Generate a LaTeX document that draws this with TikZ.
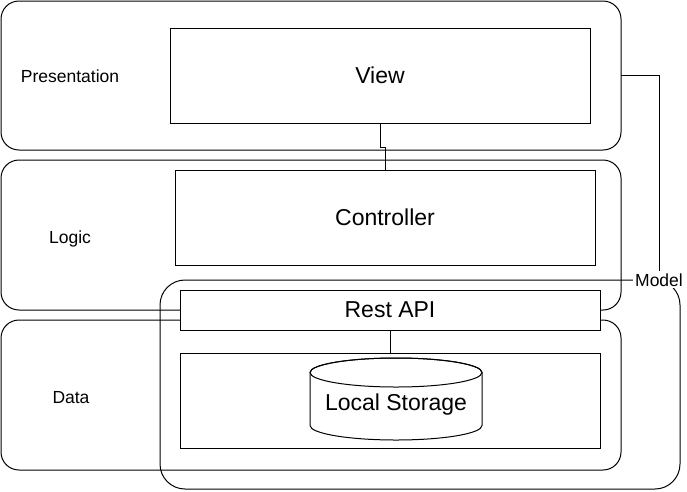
\documentclass[tikz,border=0pt]{standalone}
\usepackage{fontspec}
\setmainfont{Liberation Sans}
\tikzset{
  layer/.style={draw, rounded corners=18pt, minimum width=620pt, minimum height=150pt, inner sep=0pt, outer sep=0pt},
  boxnode/.style={draw, fill=white, inner sep=0pt, outer sep=0pt},
  smalltext/.style={font=\fontsize{17.5}{20}\selectfont, inner sep=0pt},
  bigtext/.style={font=\fontsize{23}{27}\selectfont},
  conn/.style={draw, line width=1pt},
}
\begin{document}
\begin{tikzpicture}[x=1pt, y=-1pt, line width=1pt]
\useasboundingbox (0,0) rectangle (687,491);
% layers
\node[layer, minimum height=149pt] (pres) at (311,75.5) {};
\node[layer] (logic) at (311,235) {};
\node[layer] (data) at (311,395) {};
% model container
\node[draw, rounded corners=25pt, minimum width=520pt, minimum height=209pt, inner sep=0pt, outer sep=0pt] (model) at (420,384.5) {};
% layer labels
\node[smalltext, anchor=base] (presl) at (70,82.7) {Presentation};
\node[smalltext, anchor=base] (logicl) at (70,243.3) {Logic};
\node[smalltext, anchor=base] (datal) at (71,403.3) {Data};
% inner boxes
\node[boxnode, bigtext, minimum width=420pt, minimum height=95pt] (view) at (380,75.5) {View};
\node[boxnode, bigtext, minimum width=420pt, minimum height=95pt] (ctrl) at (385,217.5) {Controller};
\node[boxnode, bigtext, minimum width=420pt, minimum height=40pt] (api) at (390,310) {Rest API};
\node[boxnode, minimum width=420pt, minimum height=95pt] (dbox) at (390,400.5) {};
% local storage cylinder
\draw[fill=white] (310,372.5) -- (310,425.5)
  arc[start angle=180, end angle=360, x radius=86pt, y radius=14.5pt]
  -- (482,372.5)
  arc[start angle=0, end angle=180, x radius=86pt, y radius=14.5pt] -- cycle;
\draw (396,372.5) ellipse [x radius=86pt, y radius=14.5pt];
\node[bigtext, anchor=base, inner sep=0pt] (store) at (396,410) {Local Storage};
% model label
\node[smalltext, fill=white, inner sep=2pt] (modellbl) at (659,280) {Model};
% connectors
\draw[conn] (view.south) -- ++(0,24) -| (ctrl.north);
\draw[conn] (pres.east) -| (modellbl.north);
\draw[conn] (api.south) -- (dbox.north);
\end{tikzpicture}
\end{document}
